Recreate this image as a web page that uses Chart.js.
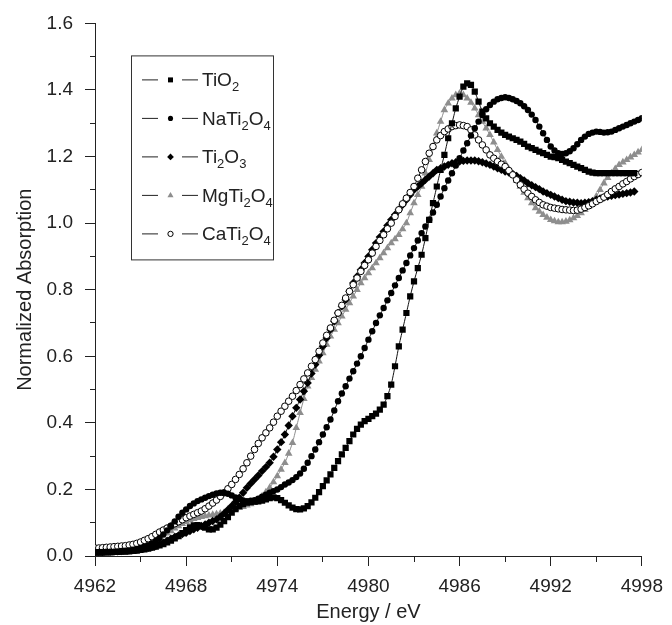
<!DOCTYPE html>
<html lang="en">
<head>
  <meta charset="UTF-8">
  <title>Ti K-edge XANES</title>
  <script src="https://cdn.jsdelivr.net/npm/chart.js"></script>
  <style>
    html, body {
      margin: 0;
      padding: 0;
      background: #ffffff;
    }
    #wrap {
      width: 672px;
      height: 625px;
      position: relative;
    }
  </style>
</head>
<body>
  <div id="wrap">
    <canvas id="xanes"></canvas>
  </div>

  <script>
    // energy grid (eV), 0.25 eV steps, one row per eV
    const energy = [
      4962, 4962.25, 4962.5, 4962.75,
      4963, 4963.25, 4963.5, 4963.75,
      4964, 4964.25, 4964.5, 4964.75,
      4965, 4965.25, 4965.5, 4965.75,
      4966, 4966.25, 4966.5, 4966.75,
      4967, 4967.25, 4967.5, 4967.75,
      4968, 4968.25, 4968.5, 4968.75,
      4969, 4969.25, 4969.5, 4969.75,
      4970, 4970.25, 4970.5, 4970.75,
      4971, 4971.25, 4971.5, 4971.75,
      4972, 4972.25, 4972.5, 4972.75,
      4973, 4973.25, 4973.5, 4973.75,
      4974, 4974.25, 4974.5, 4974.75,
      4975, 4975.25, 4975.5, 4975.75,
      4976, 4976.25, 4976.5, 4976.75,
      4977, 4977.25, 4977.5, 4977.75,
      4978, 4978.25, 4978.5, 4978.75,
      4979, 4979.25, 4979.5, 4979.75,
      4980, 4980.25, 4980.5, 4980.75,
      4981, 4981.25, 4981.5, 4981.75,
      4982, 4982.25, 4982.5, 4982.75,
      4983, 4983.25, 4983.5, 4983.75,
      4984, 4984.25, 4984.5, 4984.75,
      4985, 4985.25, 4985.5, 4985.75,
      4986, 4986.25, 4986.5, 4986.75,
      4987, 4987.25, 4987.5, 4987.75,
      4988, 4988.25, 4988.5, 4988.75,
      4989, 4989.25, 4989.5, 4989.75,
      4990, 4990.25, 4990.5, 4990.75,
      4991, 4991.25, 4991.5, 4991.75,
      4992, 4992.25, 4992.5, 4992.75,
      4993, 4993.25, 4993.5, 4993.75,
      4994, 4994.25, 4994.5, 4994.75,
      4995, 4995.25, 4995.5, 4995.75,
      4996, 4996.25, 4996.5, 4996.75,
      4997, 4997.25, 4997.5, 4997.75,
      4998
    ];

    const tio2 = [
      0.010, 0.010, 0.010, 0.011,
      0.011, 0.012, 0.012, 0.013,
      0.013, 0.014, 0.015, 0.016,
      0.018, 0.020, 0.022, 0.025,
      0.028, 0.032, 0.036, 0.041,
      0.046, 0.053, 0.060, 0.069,
      0.078, 0.086, 0.092, 0.093,
      0.090, 0.085, 0.080, 0.080,
      0.085, 0.094, 0.105, 0.117,
      0.130, 0.141, 0.150, 0.156,
      0.160, 0.162, 0.163, 0.164,
      0.166, 0.170, 0.174, 0.176,
      0.174, 0.168, 0.160, 0.152,
      0.145, 0.141, 0.140, 0.143,
      0.150, 0.161, 0.175, 0.192,
      0.210, 0.227, 0.245, 0.265,
      0.285, 0.305, 0.325, 0.345,
      0.365, 0.382, 0.395, 0.405,
      0.412, 0.420, 0.428, 0.440,
      0.455, 0.480, 0.515, 0.570,
      0.630, 0.680, 0.730, 0.780,
      0.825, 0.865, 0.905, 0.955,
      1.010, 1.060, 1.110, 1.160,
      1.205, 1.255, 1.300, 1.345,
      1.380, 1.410, 1.420, 1.415,
      1.395, 1.365, 1.335, 1.315,
      1.300, 1.290, 1.280, 1.272,
      1.265, 1.260, 1.255, 1.250,
      1.245, 1.238, 1.230, 1.225,
      1.220, 1.215, 1.210, 1.205,
      1.200, 1.198, 1.195, 1.190,
      1.185, 1.180, 1.175, 1.170,
      1.165, 1.160, 1.155, 1.152,
      1.150, 1.150, 1.150, 1.150,
      1.150, 1.150, 1.150, 1.150,
      1.150, 1.150, 1.150, null,
      null
    ];

    const nati2o4 = [
      0.012, 0.012, 0.012, 0.013,
      0.013, 0.013, 0.014, 0.015,
      0.016, 0.017, 0.019, 0.021,
      0.024, 0.028, 0.032, 0.038,
      0.045, 0.054, 0.065, 0.077,
      0.090, 0.104, 0.118, 0.130,
      0.140, 0.150, 0.158, 0.165,
      0.170, 0.175, 0.180, 0.184,
      0.188, 0.190, 0.190, 0.187,
      0.182, 0.176, 0.170, 0.167,
      0.165, 0.166, 0.168, 0.172,
      0.178, 0.184, 0.190, 0.195,
      0.200, 0.207, 0.215, 0.221,
      0.228, 0.237, 0.248, 0.262,
      0.280, 0.300, 0.320, 0.342,
      0.365, 0.387, 0.410, 0.437,
      0.465, 0.488, 0.510, 0.533,
      0.555, 0.578, 0.600, 0.625,
      0.650, 0.675, 0.700, 0.723,
      0.745, 0.768, 0.790, 0.813,
      0.835, 0.858, 0.880, 0.903,
      0.925, 0.948, 0.970, 0.990,
      1.010, 1.032, 1.055, 1.080,
      1.105, 1.128, 1.150, 1.173,
      1.195, 1.218, 1.240, 1.263,
      1.285, 1.305, 1.325, 1.342,
      1.355, 1.365, 1.372, 1.376,
      1.378, 1.376, 1.372, 1.367,
      1.360, 1.351, 1.340, 1.326,
      1.310, 1.290, 1.270, 1.250,
      1.230, 1.218, 1.210, 1.208,
      1.210, 1.216, 1.225, 1.237,
      1.250, 1.260, 1.268, 1.272,
      1.275, 1.274, 1.272, 1.273,
      1.275, 1.280, 1.285, 1.290,
      1.295, 1.300, 1.305, 1.310,
      1.315
    ];

    const ti2o3 = [
      0.012, 0.012, 0.012, 0.013,
      0.013, 0.013, 0.014, 0.015,
      0.016, 0.017, 0.018, 0.019,
      0.021, 0.023, 0.025, 0.027,
      0.030, 0.035, 0.040, 0.046,
      0.052, 0.057, 0.062, 0.066,
      0.070, 0.075, 0.080, 0.085,
      0.090, 0.095, 0.100, 0.105,
      0.110, 0.118, 0.128, 0.139,
      0.150, 0.162, 0.175, 0.190,
      0.205, 0.218, 0.230, 0.242,
      0.255, 0.267, 0.280, 0.298,
      0.320, 0.342, 0.365, 0.392,
      0.420, 0.445, 0.470, 0.495,
      0.520, 0.548, 0.575, 0.603,
      0.630, 0.655, 0.680, 0.705,
      0.730, 0.750, 0.770, 0.795,
      0.820, 0.840, 0.860, 0.880,
      0.900, 0.920, 0.940, 0.958,
      0.975, 0.993, 1.010, 1.025,
      1.040, 1.055, 1.070, 1.085,
      1.100, 1.110, 1.120, 1.130,
      1.140, 1.150, 1.160, 1.165,
      1.170, 1.175, 1.180, 1.183,
      1.185, 1.187, 1.188, 1.188,
      1.188, 1.186, 1.183, 1.179,
      1.175, 1.170, 1.165, 1.160,
      1.155, 1.152, 1.148, 1.142,
      1.135, 1.128, 1.120, 1.114,
      1.108, 1.102, 1.095, 1.090,
      1.085, 1.080, 1.075, 1.070,
      1.066, 1.064, 1.062, 1.061,
      1.060, 1.061, 1.063, 1.066,
      1.070, 1.074, 1.077, 1.080,
      1.082, 1.084, 1.086, 1.088,
      1.090, 1.092, 1.095, null,
      null
    ];

    const mgti2o4 = [
      0.015, 0.015, 0.015, 0.016,
      0.016, 0.016, 0.017, 0.017,
      0.018, 0.019, 0.020, 0.022,
      0.025, 0.029, 0.033, 0.039,
      0.045, 0.052, 0.060, 0.068,
      0.075, 0.083, 0.090, 0.097,
      0.103, 0.108, 0.112, 0.115,
      0.118, 0.120, 0.122, 0.124,
      0.126, 0.128, 0.130, 0.134,
      0.138, 0.142, 0.145, 0.148,
      0.152, 0.156, 0.160, 0.169,
      0.180, 0.192, 0.205, 0.222,
      0.240, 0.260, 0.280, 0.308,
      0.340, 0.385, 0.430, 0.472,
      0.510, 0.535, 0.560, 0.585,
      0.610, 0.635, 0.660, 0.680,
      0.700, 0.720, 0.740, 0.760,
      0.780, 0.800, 0.820, 0.835,
      0.850, 0.865, 0.880, 0.895,
      0.910, 0.925, 0.940, 0.952,
      0.965, 0.982, 1.000, 1.030,
      1.060, 1.085, 1.110, 1.150,
      1.190, 1.230, 1.270, 1.305,
      1.340, 1.360, 1.375, 1.385,
      1.390, 1.385, 1.375, 1.362,
      1.345, 1.325, 1.305, 1.285,
      1.265, 1.243, 1.220, 1.200,
      1.180, 1.162, 1.145, 1.128,
      1.110, 1.092, 1.075, 1.060,
      1.045, 1.035, 1.025, 1.017,
      1.010, 1.006, 1.003, 1.003,
      1.005, 1.009, 1.015, 1.022,
      1.030, 1.040, 1.050, 1.064,
      1.080, 1.100, 1.120, 1.136,
      1.150, 1.163, 1.175, 1.183,
      1.190, 1.198, 1.205, 1.213,
      1.220
    ];

    const cati2o4 = [
      0.024, 0.024, 0.025, 0.026,
      0.027, 0.028, 0.029, 0.030,
      0.031, 0.033, 0.035, 0.038,
      0.042, 0.047, 0.052, 0.058,
      0.065, 0.072, 0.078, 0.084,
      0.090, 0.097, 0.103, 0.109,
      0.115, 0.120, 0.125, 0.130,
      0.135, 0.142, 0.150, 0.159,
      0.168, 0.179, 0.190, 0.202,
      0.215, 0.230, 0.245, 0.262,
      0.280, 0.300, 0.320, 0.338,
      0.355, 0.370, 0.385, 0.402,
      0.420, 0.435, 0.450, 0.465,
      0.480, 0.497, 0.515, 0.532,
      0.550, 0.570, 0.590, 0.615,
      0.640, 0.663, 0.685, 0.708,
      0.730, 0.753, 0.775, 0.795,
      0.815, 0.835, 0.855, 0.873,
      0.890, 0.910, 0.930, 0.948,
      0.965, 0.983, 1.000, 1.020,
      1.040, 1.058, 1.075, 1.092,
      1.110, 1.135, 1.160, 1.185,
      1.210, 1.230, 1.250, 1.263,
      1.275, 1.283, 1.290, 1.293,
      1.295, 1.293, 1.290, 1.280,
      1.265, 1.250, 1.235, 1.220,
      1.205, 1.195, 1.185, 1.177,
      1.170, 1.158, 1.145, 1.130,
      1.115, 1.102, 1.090, 1.080,
      1.070, 1.062, 1.055, 1.051,
      1.047, 1.045, 1.043, 1.041,
      1.040, 1.039, 1.038, 1.039,
      1.042, 1.047, 1.052, 1.058,
      1.065, 1.071, 1.078, 1.086,
      1.095, 1.103, 1.110, 1.118,
      1.125, 1.133, 1.140, 1.146,
      1.152
    ];

    // legend names: [main, sub, main, sub...]
    const seriesNames = [
      ['TiO', '2'],
      ['NaTi', '2', 'O', '4'],
      ['Ti', '2', 'O', '3'],
      ['MgTi', '2', 'O', '4'],
      ['CaTi', '2', 'O', '4']
    ];

    const xMin = 4962, xMax = 4998, xMajor = 6, xMinor = 3;
    const yMin = 0, yMax = 1.6;

    const FONT = "'Liberation Sans', Arial, Helvetica, sans-serif";

    function pts(ys) {
      return energy.map((x, i) => ({ x: x, y: ys[i] }));
    }

    const datasets = [
      {
        label: 'TiO2', data: pts(tio2), order: 1,
        pointStyle: 'rect', pointRadius: 4.4,
        backgroundColor: '#000', borderColor: '#111', pointBorderWidth: 0
      },
      {
        label: 'NaTi2O4', data: pts(nati2o4), order: 2,
        pointStyle: 'circle', pointRadius: 3.2,
        backgroundColor: '#000', borderColor: '#111', pointBorderWidth: 0
      },
      {
        label: 'Ti2O3', data: pts(ti2o3), order: 4,
        pointStyle: 'rectRot', pointRadius: 4.2,
        backgroundColor: '#000', borderColor: '#111', pointBorderWidth: 0
      },
      {
        label: 'MgTi2O4', data: pts(mgti2o4), order: 5,
        pointStyle: 'triangle', pointRadius: 4.4,
        backgroundColor: '#8e8e8e', borderColor: '#8e8e8e', pointBorderWidth: 0
      },
      {
        label: 'CaTi2O4', data: pts(cati2o4), order: 3,
        pointStyle: 'circle', pointRadius: 3.3,
        backgroundColor: '#ffffff', borderColor: '#000', pointBorderWidth: 1
      }
    ];
    datasets.forEach(d => {
      d.showLine = true;
      d.borderWidth = 1;
      d.tension = 0.2;
      d.pointHoverRadius = d.pointRadius;
      d.pointBackgroundColor = d.backgroundColor;
      d.pointBorderColor = d.borderColor;
    });

    // legend box in the upper-left corner, with real subscripts
    const boxLegend = {
      id: 'boxLegend',
      afterDraw(chart) {
        const ctx = chart.ctx;
        const area = chart.chartArea;
        const left = area.left + 36, top = area.top + 32;
        const w = 142, rowH = 38.5;
        ctx.save();
        ctx.strokeStyle = '#333';
        ctx.lineWidth = 1;
        ctx.strokeRect(left + 0.5, top + 0.5, w, 204);
        datasets.forEach((d, i) => {
          const y = top + 24 + i * rowH;
          ctx.strokeStyle = '#222';
          ctx.lineWidth = 1;
          ctx.beginPath();
          ctx.moveTo(left + 11, y + 0.5); ctx.lineTo(left + 27, y + 0.5);
          ctx.moveTo(left + 51, y + 0.5); ctx.lineTo(left + 67, y + 0.5);
          ctx.stroke();
          ctx.fillStyle = d.backgroundColor;
          ctx.strokeStyle = d.borderColor;
          Chart.helpers.drawPoint(ctx, {
            pointStyle: d.pointStyle,
            radius: d.pointRadius * 0.8,
            rotation: 0,
            borderWidth: d.pointBorderWidth
          }, left + 39.5, y + 0.5);

          let x = left + 71;
          ctx.fillStyle = '#222';
          ctx.textBaseline = 'alphabetic';
          seriesNames[i].forEach((part, k) => {
            const sub = k % 2 === 1;
            ctx.font = (sub ? '13px ' : '19px ') + FONT;
            ctx.fillText(part, x, sub ? y + 12 : y + 7);
            x += ctx.measureText(part).width;
          });
        });
        ctx.restore();
      }
    };

    new Chart(document.getElementById('xanes'), {
      type: 'scatter',
      data: { datasets: datasets },
      options: {
        responsive: true,
        maintainAspectRatio: false,
        animation: false,
        layout: { padding: { left: 9, right: 26, top: 16, bottom: 0 } },
        plugins: {
          legend: { display: false },
          tooltip: { enabled: false }
        },
        scales: {
          x: {
            type: 'linear',
            min: xMin,
            max: xMax,
            afterFit(scale) { scale.height = 69; },
            border: { display: true, color: '#222', width: 1 },
            grid: {
              drawOnChartArea: false,
              drawTicks: true,
              tickLength: 10,
              color: '#222',
              tickBorderDash: c => (c.tick && c.tick.value % xMajor !== 0) ? [5, 40] : []
            },
            ticks: {
              stepSize: xMinor,
              autoSkip: false,
              maxRotation: 0,
              padding: 9,
              color: '#222',
              font: { family: FONT, size: 19 },
              callback: v => (v % xMajor === 0 ? String(v) : '')
            },
            title: {
              display: true,
              text: 'Energy / eV',
              color: '#222',
              font: { family: FONT, size: 20 },
              padding: { top: 0, bottom: 1 }
            }
          },
          y: {
            min: yMin,
            max: yMax,
            afterFit(scale) { scale.width = 86; },
            border: { display: true, color: '#222', width: 1 },
            grid: {
              drawOnChartArea: false,
              drawTicks: true,
              tickLength: 10,
              color: '#222',
              tickBorderDash: c => (c.tick && Math.round(c.tick.value * 10) % 2 !== 0) ? [5, 5] : [],
              tickBorderDashOffset: c => (c.tick && Math.round(c.tick.value * 10) % 2 !== 0) ? 5 : 0
            },
            ticks: {
              stepSize: 0.1,
              autoSkip: false,
              padding: 12,
              color: '#222',
              font: { family: FONT, size: 19 },
              callback: v => (Math.round(v * 10) % 2 === 0 ? v.toFixed(1) : '')
            },
            title: {
              display: true,
              text: 'Normalized Absorption',
              color: '#222',
              font: { family: FONT, size: 20 },
              padding: { top: 4, bottom: 4 }
            }
          }
        }
      },
      plugins: [boxLegend]
    });
  </script>
</body>
</html>
